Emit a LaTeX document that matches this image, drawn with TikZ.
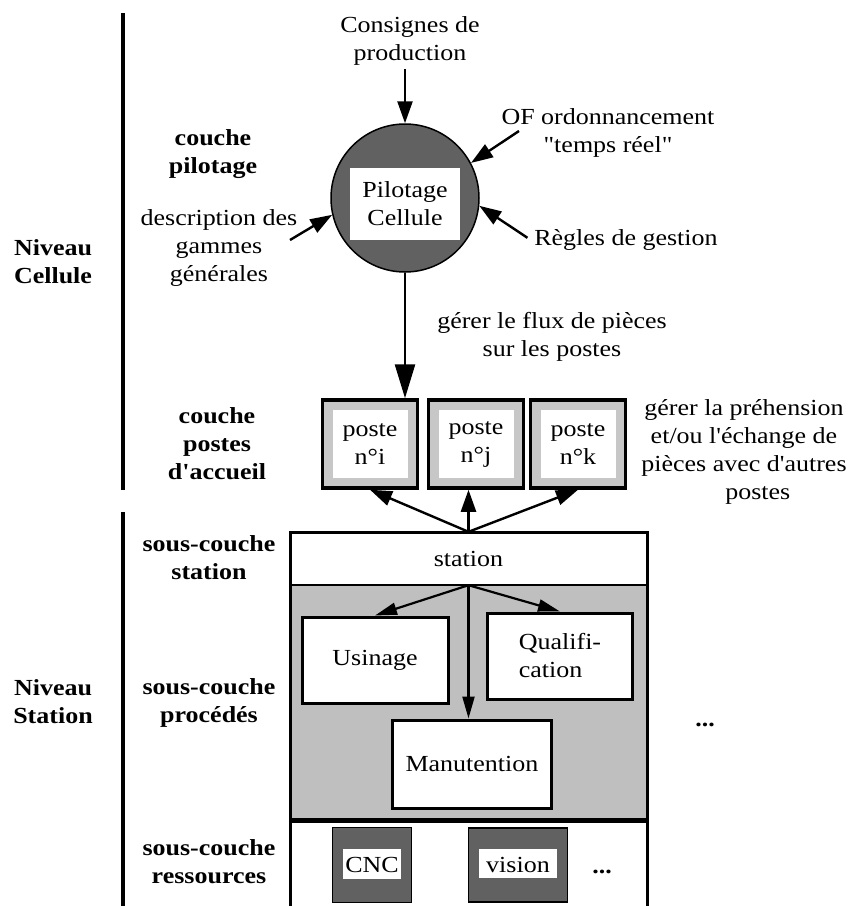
\documentclass[tikz,border=0pt]{standalone}
\usepackage{fontspec}
\setmainfont{Liberation Serif}[FakeStretch=1.13, Ligatures=TeXOff]
\usetikzlibrary{arrows.meta}

\begin{document}
\begin{tikzpicture}[x=1pt,y=-1pt,
    every node/.style={font=\fontsize{23}{28}\selectfont, align=center},
    lbl/.style={font=\fontsize{23}{28}\selectfont\bfseries},
    arr/.style={line width=2.4pt, -{Triangle[length=22pt,width=15pt]}},
    bigarr/.style={line width=2.6pt, -{Triangle[length=34pt,width=20pt]}},
    sarr/.style={line width=2.2pt, -{Triangle[length=22pt,width=12pt]}},
    pbox/.style={draw, line width=3pt, fill=white, inner sep=0pt},
    poste/.style={draw, line width=3.5pt, fill=black!22, inner sep=0pt,
      minimum width=95pt, minimum height=88pt,
      path picture={\fill[white] ([shift={(10pt,-10pt)}]path picture bounding box.north west)
        rectangle ([shift={(-10pt,10pt)}]path picture bounding box.south east);}},
    res/.style={draw, line width=1.5pt, fill=black!62, inner sep=0pt,
      path picture={\fill[white] ([shift={(10pt,-21pt)}]path picture bounding box.north west)
        rectangle ([shift={(-11pt,24pt)}]path picture bounding box.south east);}}
  ]
  \useasboundingbox (0,0) rectangle (856,906);
  % separations des niveaux
  \draw[line width=3.5pt] (123,13) -- (123,490);
  \draw[line width=3.5pt] (123,512) -- (123,906);
  \node[lbl] (nivcel) at (53,262) {Niveau\\Cellule};
  \node[lbl] (nivsta) at (53,702) {Niveau\\Station};
  % libelles des couches
  \node[lbl] (cpil) at (213,154) {couche\\pilotage};
  \node[lbl] (cpos) at (217,444) {couche\\postes\\d'accueil};
  \node[lbl] (scsta) at (209,558) {sous-couche\\station};
  \node[lbl] (scpro) at (209,703) {sous-couche\\procédés};
  \node[lbl] (scres) at (209,862) {sous-couche\\ressources};
  % pilotage cellule
  \node[circle, draw, line width=1.5pt, fill=black!62, minimum size=148pt] (pc) at (405,198) {};
  \node[fill=white, minimum width=110pt, minimum height=72pt, inner sep=0pt] (pil) at (405,204) {Pilotage\\Cellule};
  \node (cons) at (410,41) {Consignes de\\production};
  \node (ofo) at (608,133) {OF ordonnancement\\"temps réel"};
  \node (regl) at (626,240) {Règles de gestion};
  \node (desc) at (219,248) {description des\\gammes\\générales};
  \coordinate (ofin) at (519,131);
  \coordinate (descin) at (290,240);
  \draw[arr] (pc.north |- cons.south) -- (pc.north);
  \draw[arr] (ofin) -- (pc.28);
  \draw[arr, shorten <=4pt] (regl.west) -- (pc.-6);
  \draw[arr] (descin) -- (pc.193);
  % postes d'accueil
  \node[poste] (pi) at (370,444) {poste\\n°i};
  \node[poste] (pj) at (476,444) {poste\\n°j};
  \node[poste] (pk) at (578,444) {poste\\n°k};
  \node (flux) at (552,337) {gérer le flux de pièces\\sur les postes};
  \node (preh) at (744,452) {gérer la préhension\\et/ou l'échange de\\pièces avec d'autres\\\hspace*{1.2em}postes};
  \draw[bigarr] (pc.south) -- (pc.south |- pi.north);
  % station
  \fill[black!25] (290,585) rectangle (647,820);
  \draw[line width=3pt] (290,906) -- (290,532) -- (647,532) -- (647,906);
  \draw[line width=2.5pt] (290,585) -- (647,585);
  \draw[line width=5pt] (290,820) -- (647,820);
  \node[minimum width=357pt, minimum height=53pt, inner sep=0pt] (stn) at (468.5,558.5) {station};
  \draw[arr] (stn.north) -- (pi.south);
  \draw[arr] (stn.north) -- (stn.north |- pj.south);
  \draw[arr] (stn.north) -- (pk.south);
  % procedes
  \node[pbox, minimum width=146pt, minimum height=86pt] (usi) at (375,660) {Usinage};
  \node[pbox, minimum width=145pt, minimum height=86pt, align=left] (qua) at (560,656) {Qualifi-\\cation};
  \node[pbox, minimum width=159pt, minimum height=88pt] (man) at (472,764) {Manutention};
  \draw[sarr] (stn.south) -- (usi.north);
  \draw[sarr] (stn.south) -- (qua.north);
  \draw[sarr] (stn.south) -- (stn.south |- man.north);
  \node (dotsp) at (705,725) {\textbf{...}};
  % ressources
  \node[res, minimum width=79pt, minimum height=75pt] (cnc) at (372,865) {CNC};
  \node[res, minimum width=99pt, minimum height=74pt] (vis) at (518,865) {vision};
  \node (dotsr) at (602,872) {\textbf{...}};
\end{tikzpicture}
\end{document}
